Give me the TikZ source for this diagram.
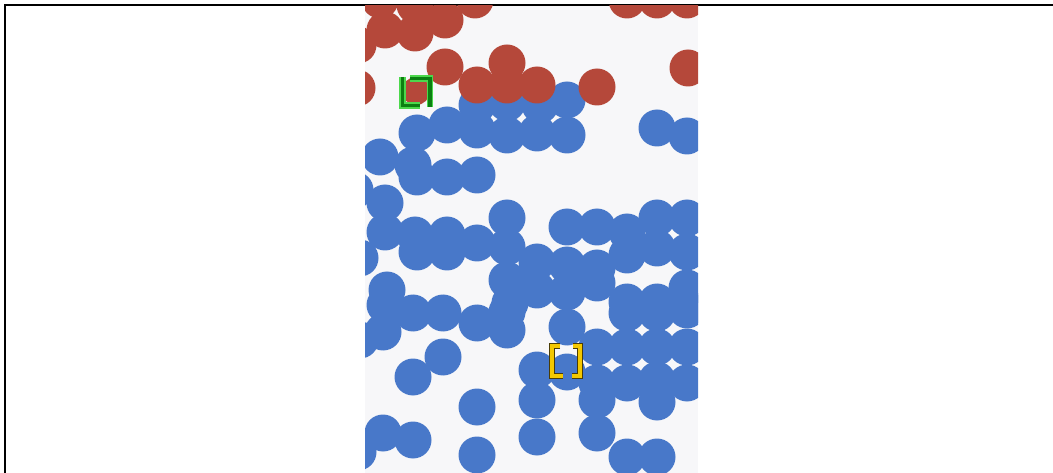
\documentclass[tikz,border=0pt]{standalone}
\usepackage{xcolor}
\usepackage{tikz}

\definecolor{panelGray}{HTML}{F7F7F9}
\definecolor{ballRed}{HTML}{B5483A}
\definecolor{ballBlue}{HTML}{4878C9}
\definecolor{markGreen}{HTML}{0C7F12}
\definecolor{markGlow}{HTML}{4CD84C}
\definecolor{markYellow}{HTML}{F4C800}
\definecolor{markEdge}{HTML}{4A3C05}

\begin{document}
\begin{tikzpicture}[x=1pt,y=-1pt,
redBall/.style={fill=ballRed},
blueBall/.style={fill=ballBlue},
glowLine/.style={draw=markGlow,line width=6.5pt,line join=miter},
greenLine/.style={draw=markGreen,line width=3.6pt,line join=miter},
edgeLine/.style={draw=markEdge,line width=6.4pt,line join=miter},
yellowLine/.style={draw=markYellow,line width=4.2pt,line join=miter}]
\useasboundingbox (0,0) rectangle (1053,473);

% frame
\draw[line width=1.4pt] (5,473) -- (5,5) -- (1053,5);

% panel
\fill[panelGray] (365,6) rectangle (698,473);

\begin{scope}
\clip (365,6) rectangle (698,473);
% blue balls
\foreach \x/\y in {477/105,507/103,540/105,567/100,
  417/133,447/125,477/130,507/135,537/133,567/135,657/128,687/136,
  380/157,413/165,417/177,447/177,477/175,355/190,385/203,
  385/232,415/235,417/252,447/235,447/252,477/243,507/218,507/247,360/258,
  567/227,597/227,627/232,657/218,687/218,627/255,657/248,687/252,
  537/262,567/265,597/268,597/283,537/290,567/292,627/302,657/302,687/288,687/308,
  387/290,385/305,413/313,443/313,507/280,510/303,477/323,507/312,507/330,
  383/332,360/340,443/357,413/377,477/407,
  383/433,413/440,358/452,477/455,
  567/327,627/313,657/313,687/310,
  537/370,537/400,537/437,567/372,
  597/347,627/347,657/347,687/347,
  597/383,627/383,657/380,687/383,597/400,657/402,
  597/433,627/457,657/457}
  \fill[blueBall] (\x,\y) circle[radius=18.5pt];
% red balls
\foreach \x/\y in {380/0,415/5,385/30,415/33,445/20,475/0,358/45,357/88,
  445/67,507/63,477/85,507/85,537/85,597/87,688/68,
  627/0,657/0,687/0}
  \fill[redBall] (\x,\y) circle[radius=18.5pt];
\fill[redBall] (416,91) circle[radius=14pt];
\end{scope}

% green marker
\draw[glowLine] (402.5,77) -- (402.5,105.5) -- (420,105.5);
\draw[glowLine] (410,78.5) -- (430,78.5) -- (430,107);
\draw[greenLine] (402.5,77) -- (402.5,105.5) -- (420,105.5);
\draw[greenLine] (410,78.5) -- (430,78.5) -- (430,107);

% yellow marker
\draw[edgeLine] (560,346) -- (552,346) -- (552,376) -- (563,376);
\draw[edgeLine] (573,346) -- (580,346) -- (580,376) -- (572,376);
\draw[yellowLine] (560,346) -- (552,346) -- (552,376) -- (563,376);
\draw[yellowLine] (573,346) -- (580,346) -- (580,376) -- (572,376);
\end{tikzpicture}
\end{document}
